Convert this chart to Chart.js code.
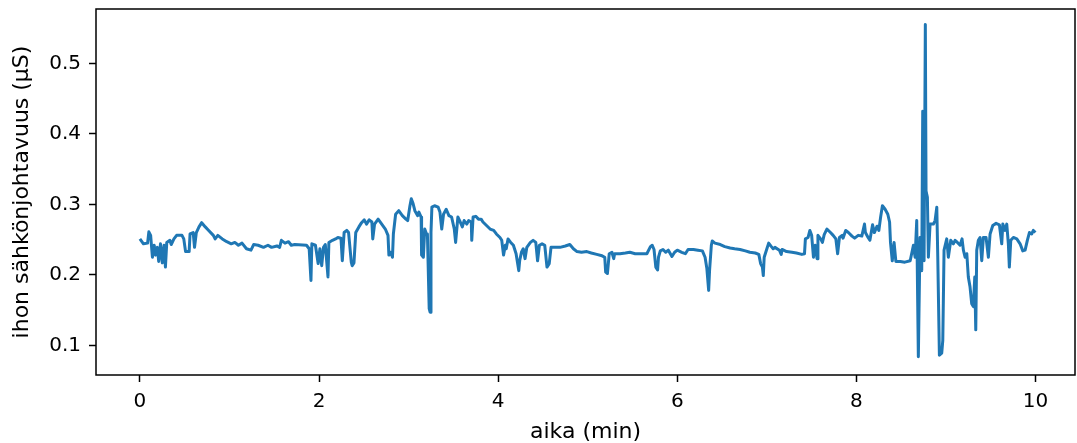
<!DOCTYPE html>
<html><head><meta charset="utf-8">
<script src="https://cdn.jsdelivr.net/npm/chart.js@4.4.1/dist/chart.umd.min.js"></script>
<style>html,body{margin:0;padding:0;background:#fff;overflow:hidden}#wrap{width:1077px;height:443px;position:relative}</style>
</head><body><div id="wrap"><canvas id="c" width="1077" height="443"></canvas></div>
<script>
// time in minutes
const timeMin = [
0.00,0.04,0.086,0.10,0.12,0.14,0.16,0.175,0.195,0.21,0.23,0.25,0.27,0.285,0.30,0.335,0.35,0.38,0.41,0.47,0.49,0.51,0.55,0.56,0.595,0.61,0.63,0.66,0.69,0.73,0.76,0.82,0.84,0.87,0.92,0.97,1.02,1.06,1.10,1.14,1.19,1.24,1.27,1.32,1.38,1.43,1.47,1.53,1.56,1.58,1.62,1.66,1.69,1.73,
1.86,1.89,1.91,1.92,1.96,1.99,2.01,2.03,2.05,2.07,2.10,2.11,2.15,2.185,2.21,2.245,2.26,2.28,2.31,2.33,2.36,2.37,2.39,2.41,2.445,2.475,2.505,2.53,2.56,2.59,2.60,2.62,2.66,2.70,2.74,2.77,2.78,2.80,2.82,2.83,2.855,2.89,2.93,2.97,2.99,3.015,3.03,3.05,3.07,3.10,3.115,3.14,3.145,3.165,3.18,3.20,3.21,3.23,3.24,3.25,3.26,3.29,3.33,3.35,3.37,3.39,3.42,3.45,3.48,3.51,
3.525,3.55,3.57,3.60,3.62,3.65,3.67,3.70,3.705,3.72,3.75,3.78,3.81,3.83,3.87,3.91,3.95,3.98,4.02,4.04,4.06,4.08,4.09,4.11,4.14,4.17,4.20,4.23,4.24,4.26,4.28,4.30,4.32,4.36,4.39,4.42,4.44,4.46,4.49,4.52,4.545,4.57,4.59,4.63,4.69,4.75,4.80,4.84,4.88,4.93,4.99,5.04,5.10,5.16,5.19,5.20,5.22,5.24,5.27,5.29,5.30,
5.36,5.42,5.47,5.53,5.58,5.66,5.70,5.72,5.74,5.76,5.78,5.79,5.81,5.84,5.87,5.90,5.94,5.97,6.00,6.05,6.09,6.12,6.18,6.23,6.28,6.31,6.33,6.35,6.36,6.38,6.39,6.42,6.48,6.53,6.59,6.64,6.70,6.76,6.81,6.87,6.91,6.93,6.95,6.96,6.97,7.00,7.02,7.05,7.07,
7.09,7.14,7.16,7.17,7.22,7.28,7.33,7.39,7.42,7.43,7.46,7.48,7.50,7.52,7.54,7.56,7.57,7.60,7.62,7.64,7.67,7.71,7.74,7.77,7.79,7.81,7.84,7.85,7.88,7.91,7.95,7.98,8.02,8.06,8.09,8.10,8.13,8.15,8.18,8.20,8.23,8.25,8.27,8.29,8.32,8.35,8.37,8.38,8.40,8.42,8.44,8.49,8.54,8.60,
8.636,8.655,8.673,8.691,8.710,8.718,8.729,8.740,8.755,8.769,8.777,8.792,8.803,8.822,8.859,8.878,8.897,8.908,8.926,8.952,8.964,8.978,9.008,9.026,9.053,9.082,9.101,9.127,9.157,9.179,9.194,9.213,9.232,9.249,9.268,9.287,9.305,9.321,9.332,9.343,9.361,9.380,9.399,9.417,9.447,9.473,9.492,9.522,9.559,9.596,9.622,9.634,9.659,9.678,9.696,9.707,9.723,9.752,9.790,9.827,9.857,9.883,9.908,9.931,9.957,9.975,9.998
];
// skin conductance in microsiemens
const conductance = [
0.251,0.244,0.245,0.261,0.256,0.225,0.242,0.228,0.239,0.219,0.244,0.217,0.242,0.211,0.246,0.249,0.243,0.251,0.256,0.256,0.251,0.233,0.233,0.258,0.260,0.239,0.260,0.268,0.274,0.268,0.264,0.256,0.251,0.256,0.251,0.247,0.244,0.246,0.242,0.245,0.237,0.235,0.243,0.242,0.239,0.242,0.239,0.241,0.239,0.249,0.245,0.247,0.242,0.243,
0.242,0.237,0.192,0.244,0.242,0.216,0.237,0.213,0.239,0.243,0.197,0.246,0.249,0.251,0.253,0.252,0.220,0.260,0.263,0.260,0.218,0.213,0.217,0.260,0.268,0.274,0.278,0.272,0.278,0.275,0.251,0.272,0.279,0.272,0.265,0.256,0.228,0.232,0.225,0.258,0.286,0.291,0.284,0.279,0.277,0.298,0.308,0.301,0.291,0.284,0.289,0.282,0.228,0.225,0.265,0.258,0.258,0.152,0.147,0.260,0.296,0.298,0.296,0.289,0.265,0.286,0.293,0.284,0.282,0.265,
0.246,0.282,0.277,0.268,0.277,0.272,0.277,0.275,0.249,0.282,0.283,0.279,0.279,0.275,0.270,0.265,0.263,0.258,0.253,0.249,0.228,0.242,0.237,0.251,0.246,0.242,0.230,0.206,0.220,0.232,0.237,0.223,0.239,0.246,0.249,0.246,0.220,0.242,0.244,0.242,0.211,0.216,0.239,0.239,0.239,0.241,0.243,0.237,0.233,0.232,0.233,0.231,0.229,0.227,0.225,0.204,0.202,0.230,0.232,0.223,0.230,
0.230,0.231,0.232,0.230,0.230,0.230,0.240,0.242,0.236,0.211,0.207,0.225,0.234,0.236,0.232,0.235,0.226,0.232,0.235,0.232,0.230,0.236,0.236,0.235,0.234,0.225,0.209,0.178,0.206,0.242,0.248,0.245,0.243,0.240,0.238,0.237,0.236,0.234,0.232,0.231,0.229,0.216,0.211,0.199,0.225,0.237,0.245,0.240,0.237,
0.239,0.235,0.229,0.236,0.233,0.232,0.231,0.229,0.230,0.251,0.253,0.263,0.256,0.225,0.242,0.223,0.256,0.251,0.246,0.257,0.265,0.260,0.256,0.251,0.230,0.253,0.256,0.252,0.263,0.260,0.255,0.252,0.256,0.255,0.272,0.260,0.253,0.249,0.271,0.260,0.269,0.263,0.282,0.298,0.293,0.286,0.275,0.246,0.220,0.246,0.219,0.219,0.218,0.220,
0.242,0.225,0.277,0.084,0.253,0.225,0.206,0.432,0.220,0.555,0.319,0.310,0.225,0.272,0.272,0.277,0.296,0.225,0.086,0.089,0.107,0.235,0.251,0.225,0.249,0.244,0.249,0.246,0.242,0.251,0.235,0.225,0.230,0.197,0.183,0.159,0.155,0.197,0.122,0.235,0.249,0.253,0.220,0.253,0.253,0.225,0.258,0.270,0.273,0.271,0.244,0.272,0.263,0.272,0.244,0.211,0.249,0.253,0.251,0.244,0.234,0.235,0.249,0.260,0.258,0.263,0.260
];
const xTicks = [0, 2, 4, 6, 8, 10];
const yTicks = [0.1, 0.2, 0.3, 0.4, 0.5];
const xTitle = 'aika (min)';
const yTitle = 'ihon sähkönjohtavuus (µS)';

const points = timeMin.map((t, i) => ({x: t, y: conductance[i]}));
const TICK_FONT = {family: "'DejaVu Sans'", size: 20};
const TITLE_FONT = {family: "'DejaVu Sans'", size: 22};

const frame = {
  id: 'frame',
  afterDraw(chart) {
    const {ctx, chartArea: a} = chart;
    ctx.save();
    ctx.strokeStyle = '#000';
    ctx.lineWidth = 1.5;
    ctx.strokeRect(a.left, a.top, a.right - a.left, a.bottom - a.top);
    ctx.restore();
  }
};

new Chart(document.getElementById('c'), {
  type: 'line',
  data: {datasets: [{data: points, borderColor: '#1f77b4', borderWidth: 3, pointRadius: 0, tension: 0, borderJoinStyle: 'round', fill: false}]},
  options: {
    responsive: false, animation: false, devicePixelRatio: 1,
    layout: {padding: {left: 0, right: 2, top: 9, bottom: 0}},
    plugins: {legend: {display: false}, tooltip: {enabled: false}},
    scales: {
      x: {
        type: 'linear', min: -0.49, max: 10.44,
        afterBuildTicks: s => { s.ticks = xTicks.map(v => ({value: v})); },
        afterFit: s => { s.height = 68; s.paddingLeft = 0; s.paddingRight = 0; },
        grid: {display: true, drawOnChartArea: false, drawTicks: true, tickLength: 7, tickWidth: 1.5, tickColor: '#000'},
        border: {display: false},
        ticks: {color: '#000', font: TICK_FONT, padding: 8, maxRotation: 0, callback: v => String(v)},
        title: {display: true, text: xTitle, color: '#000', font: TITLE_FONT, padding: {top: 0, bottom: -2}}
      },
      y: {
        type: 'linear', min: 0.058, max: 0.577,
        afterBuildTicks: s => { s.ticks = yTicks.map(v => ({value: v})); },
        afterFit: s => { s.width = 96; s.paddingTop = 0; s.paddingBottom = 0; },
        grid: {display: true, drawOnChartArea: false, drawTicks: true, tickLength: 7, tickWidth: 1.5, tickColor: '#000'},
        border: {display: false},
        ticks: {color: '#000', font: TICK_FONT, padding: 8, callback: v => v.toFixed(1)},
        title: {display: true, text: yTitle, color: '#000', font: TITLE_FONT, padding: {top: 9, bottom: 0}}
      }
    }
  },
  plugins: [frame]
});
</script>
</body></html>
